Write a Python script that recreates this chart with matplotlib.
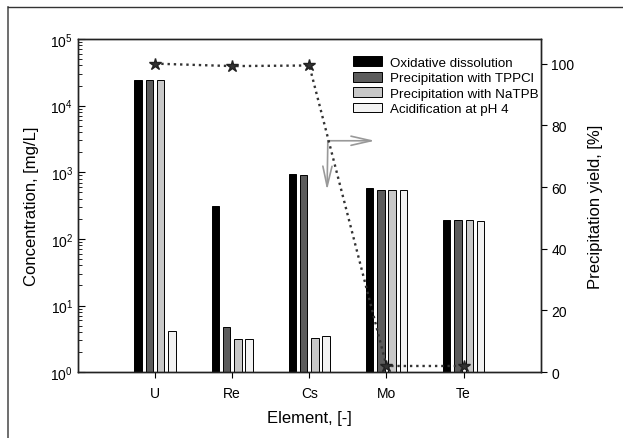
import numpy as np
import matplotlib.pyplot as plt

plt.rcParams['font.family'] = ['Liberation Sans', 'DejaVu Sans']

# data
elements = ["U", "Re", "Cs", "Mo", "Te"]
oxidative = [24500, 310, 950, 570, 190]
tppcl = [24500, 4.7, 920, 550, 190]
natpb = [24500, 3.1, 3.2, 550, 190]
acid_ph4 = [4.2, 3.1, 3.5, 545, 188]
yield_pct = [100, 99.2, 99.4, 2, 2]

series = [oxidative, tppcl, natpb, acid_ph4]
labels = ["Oxidative dissolution", "Precipitation with TPPCl",
          "Precipitation with NaTPB", "Acidification at pH 4"]
colors = ["#000000", "#5c5c5c", "#c8c8c8", "#f2f2f2"]

fig = plt.figure(figsize=(6.23, 4.39), dpi=100)
# outer frame (left and top lines only, like the screenshot)
fig.add_artist(plt.Line2D([0.013, 0.013], [0, 0.982], color="#555555", lw=1.2))
fig.add_artist(plt.Line2D([0.013, 1.0], [0.982, 0.982], color="#333333", lw=1.0))

ax = fig.add_axes([0.125, 0.150, 0.743, 0.759])
x = np.arange(1, len(elements) + 1)
w = 0.097
step = 0.146
handles = []
for i, (vals, lab, c) in enumerate(zip(series, labels, colors)):
    b = ax.bar(x + (i - 1.5) * step, vals, width=w, color=c, edgecolor="black",
               linewidth=0.7, label=lab, zorder=2)
    handles.append(b)

ax.set_yscale("log")
ax.set_ylim(1, 1e5)
ax.set_xlim(0, 6)
ax.set_xticks(x)
ax.set_xticklabels(elements)
ax.tick_params(axis="x", direction="out", length=4, labelsize=10, pad=6)
ax.tick_params(axis="y", which="major", direction="in", length=5, labelsize=10)
ax.tick_params(axis="y", which="minor", direction="in", length=3)
ax.set_ylabel("Concentration, [mg/L]", fontsize=12, labelpad=8)
ax.set_xlabel("Element, [-]", fontsize=12, labelpad=7)

ax2 = ax.twinx()
ax2.plot(x, yield_pct, linestyle=":", color="#333333", linewidth=1.7,
         marker="*", markersize=9, markerfacecolor="#333333",
         markeredgecolor="#222222", zorder=5)
ax2.set_ylim(0, 108)
ax2.set_yticks([0, 20, 40, 60, 80, 100])
ax2.tick_params(axis="y", direction="out", length=4, labelsize=10)
ax2.set_ylabel("Precipitation yield, [%]", fontsize=12, labelpad=10)

# arrows pointing to the axes
arrow_kw = dict(arrowstyle="->,head_length=1.45,head_width=0.33", color="#999999",
                lw=1.2, shrinkA=0, shrinkB=0)
ax2.annotate("", xy=(3.85, 75.0), xytext=(3.24, 75.0), arrowprops=arrow_kw)
ax2.annotate("", xy=(3.23, 59.0), xytext=(3.24, 75.0), arrowprops=arrow_kw)

ax2.legend(handles, labels, loc="upper left", bbox_to_anchor=(0.594, 0.948),
           frameon=False, fontsize=9.6, handlelength=2.2, handleheight=0.75,
           labelspacing=0.22, handletextpad=0.6, borderaxespad=0, borderpad=0)

for a in (ax, ax2):
    for s in a.spines.values():
        s.set_color("#222222")
        s.set_linewidth(1.0)

fig.savefig("out.png", dpi=100)
